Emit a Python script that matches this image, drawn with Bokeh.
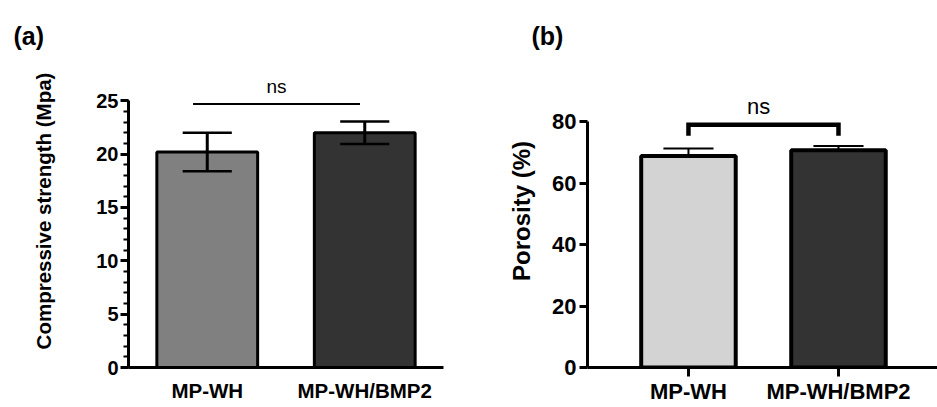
from bokeh.plotting import figure
from bokeh.models import Range1d, SingleIntervalTicker, FixedTicker
from bokeh.layouts import row
from bokeh.embed import file_html
from bokeh.resources import INLINE
from bokeh.core.properties import value

# ---------------- data ----------------
categories = ["MP-WH", "MP-WH/BMP2"]
strength_mean = [20.2, 22.0]        # MPa
strength_sd = [1.8, 1.05]
porosity_mean = [68.8, 70.7]        # %
porosity_sd = [2.5, 1.35]
strength_ticks_interval = 5
porosity_ticks_interval = 20
strength_axis_max = 25
porosity_axis_max = 80
sig_text = "ns"
strength_sig_y = 24.7
porosity_bracket_top = 79.0
porosity_bracket_leg = 75.4

FONT = "Liberation Sans"
xs = [i + 0.5 for i in range(len(categories))]
overrides = {x: c for x, c in zip(xs, categories)}


def style_common(p):
    p.grid.visible = False
    p.outline_line_color = None
    p.background_fill_color = "white"
    p.border_fill_color = "white"
    p.title.align = "left"
    p.title.text_font = FONT
    p.title.text_font_style = "bold"
    p.title.text_font_size = "25px"
    p.title.text_color = "black"
    p.title.standoff = 10
    for ax in (p.xaxis[0], p.yaxis[0]):
        ax.axis_line_color = "black"
        ax.axis_line_width = 3
        ax.major_tick_line_color = "black"
        ax.major_tick_line_width = 3
        ax.major_tick_in = 0
        ax.minor_tick_in = 0
        ax.major_label_text_font = FONT
        ax.major_label_text_font_style = "bold"
        ax.major_label_text_color = "black"
        ax.axis_label_text_font = FONT
        ax.axis_label_text_font_style = "bold"
        ax.axis_label_text_color = "black"


# ---------------- panel (a) ----------------
pa = figure(width=445, height=407, x_range=Range1d(0, 2), y_range=Range1d(0, 29.33),
            title="(a)", output_backend="svg", toolbar_location=None,
            min_border_left=128, min_border_right=2, min_border_top=54, min_border_bottom=40)
style_common(pa)
pa.title.offset = -115
pa.vbar(x=xs, top=strength_mean, bottom=0, width=0.64,
        fill_color=["#808080", "#333333"], line_color="black", line_width=3)
lo = [m - s for m, s in zip(strength_mean, strength_sd)]
hi = [m + s for m, s in zip(strength_mean, strength_sd)]
cap_a = 0.156
pa.segment(x0=xs, y0=lo, x1=xs, y1=hi, line_color="black", line_width=3)
pa.segment(x0=[x - cap_a for x in xs], y0=hi, x1=[x + cap_a for x in xs], y1=hi,
           line_color="black", line_width=2.5)
pa.segment(x0=[x - cap_a for x in xs], y0=lo, x1=[x + cap_a for x in xs], y1=lo,
           line_color="black", line_width=2.5)
pa.segment(x0=[0.41], y0=[strength_sig_y], x1=[1.47], y1=[strength_sig_y],
           line_color="black", line_width=2)
pa.text(x=[0.94], y=[26.3], text=[sig_text], text_font=value(FONT), text_font_size="19px",
        text_align="center", text_baseline="alphabetic", text_color="black")

ya = pa.yaxis[0]
ya.ticker = SingleIntervalTicker(interval=strength_ticks_interval, num_minor_ticks=5)
ya.bounds = (0, strength_axis_max)
ya.major_tick_out = 8
ya.minor_tick_out = 5
ya.minor_tick_line_width = 2
ya.minor_tick_line_color = "black"
ya.major_label_text_font_size = "20px"
ya.major_label_standoff = 2
ya.axis_label = "Compressive strength (Mpa)"
ya.axis_label_text_font_size = "20.5px"
ya.axis_label_standoff = 38

xa = pa.xaxis[0]
xa.ticker = FixedTicker(ticks=xs)
xa.major_label_overrides = overrides
xa.major_tick_out = 0
xa.major_tick_line_color = None
xa.minor_tick_line_color = None
xa.major_label_text_font_size = "20.5px"
xa.major_label_standoff = 11

# ---------------- panel (b) ----------------
pb = figure(width=492, height=407, x_range=Range1d(-0.173, 2.16), y_range=Range1d(0, 101.85),
            title="(b)", output_backend="svg", toolbar_location=None,
            min_border_left=142, min_border_right=0, min_border_top=54, min_border_bottom=39)
style_common(pb)
pb.title.offset = -56
phi = [m + s for m, s in zip(porosity_mean, porosity_sd)]
cap_b = 0.167
pb.segment(x0=xs, y0=porosity_mean, x1=xs, y1=phi, line_color="black", line_width=2)
pb.segment(x0=[x - cap_b for x in xs], y0=phi, x1=[x + cap_b for x in xs], y1=phi,
           line_color="black", line_width=2)
pb.vbar(x=xs, top=porosity_mean, bottom=0, width=0.63,
        fill_color=["#d3d3d3", "#333333"], line_color="black", line_width=4)
pb.line(x=[xs[0], xs[0], xs[1], xs[1]],
        y=[porosity_bracket_leg, porosity_bracket_top, porosity_bracket_top, porosity_bracket_leg],
        line_color="black", line_width=4.5, line_join="miter")
pb.text(x=[0.967], y=[85.0], text=[sig_text], text_font=value(FONT), text_font_size="22px",
        text_align="center", text_baseline="alphabetic", text_color="black")

yb = pb.yaxis[0]
yb.ticker = SingleIntervalTicker(interval=porosity_ticks_interval, num_minor_ticks=0)
yb.bounds = (0, porosity_axis_max)
yb.major_tick_out = 8
yb.minor_tick_line_color = None
yb.major_label_text_font_size = "22px"
yb.major_label_standoff = 3
yb.axis_label = "Porosity (%)"
yb.axis_label_text_font_size = "24px"
yb.axis_label_standoff = 14

xb = pb.xaxis[0]
xb.ticker = FixedTicker(ticks=xs)
xb.major_label_overrides = overrides
xb.major_tick_out = 9
xb.minor_tick_line_color = None
xb.major_label_text_font_size = "22px"
xb.major_label_standoff = 2

layout = row(pa, pb)
open("out.html", "w").write(file_html(layout, INLINE))
